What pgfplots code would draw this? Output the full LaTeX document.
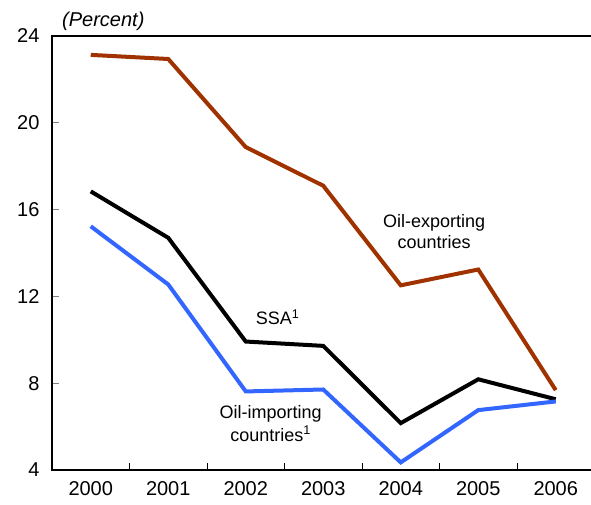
\documentclass[border=0pt]{standalone}
\usepackage{pgfplots}
\pgfplotsset{compat=1.18}
\usepackage{fontspec}
\setmainfont{Liberation Sans}
\definecolor{oilred}{RGB}{160,50,0}
\definecolor{oilblue}{RGB}{51,102,255}
\begin{document}
\begin{tikzpicture}
\useasboundingbox (0,0) rectangle (591pt,504pt);
\clip (0,0) rectangle (591pt,504pt);
\begin{axis}[
  at={(52pt,34pt)}, anchor=south west,
  scale only axis, width=542.5pt, height=434pt,
  xmin=-0.5, xmax=6.5, ymin=4, ymax=24,
  ytick={4,8,...,24},
  xtick={-0.5,0.5,...,6.5},
  x tick label as interval,
  xticklabels={2000,2001,2002,2003,2004,2005,2006},
  tick pos=left, tick align=inside,
  major tick length=7pt,
  x tick style={black, line width=0.8pt},
  y tick style={gray, line width=0.8pt},
  axis line style={line width=1.2pt},
  /pgf/number format/assume math mode=true,
  tick label style={font=\fontsize{20}{24}\selectfont},
  xticklabel style={yshift=-8pt},
  yticklabel style={xshift=-9pt},
  clip=false,
]
\addplot[oilred, line width=4pt] coordinates {
  (0,23.13) (1,22.94) (2,18.88) (3,17.1) (4,12.51) (5,13.24) (6,7.68)};
\addplot[black, line width=4pt] coordinates {
  (0,16.84) (1,14.70) (2,9.92) (3,9.72) (4,6.16) (5,8.18) (6,7.26)};
\addplot[oilblue, line width=4pt] coordinates {
  (0,15.23) (1,12.55) (2,7.62) (3,7.71) (4,4.35) (5,6.76) (6,7.16)};
\node[align=center, font=\fontsize{18}{21}\selectfont] at (axis cs:4.43,15.0) {Oil-exporting\\countries};
\node[font=\fontsize{18}{21}\selectfont] at (axis cs:2.41,11.03) {SSA\textsuperscript{1}};
\node[align=center, font=\fontsize{18}{23}\selectfont] at (axis cs:2.32,6.16) {Oil-importing\\countries\textsuperscript{1}};
\node[anchor=west, inner sep=0pt, font=\fontsize{20}{24}\selectfont\itshape] at ([xshift=10pt,yshift=15pt]axis description cs:0,1) {(Percent)};
\end{axis}
\end{tikzpicture}
\end{document}
